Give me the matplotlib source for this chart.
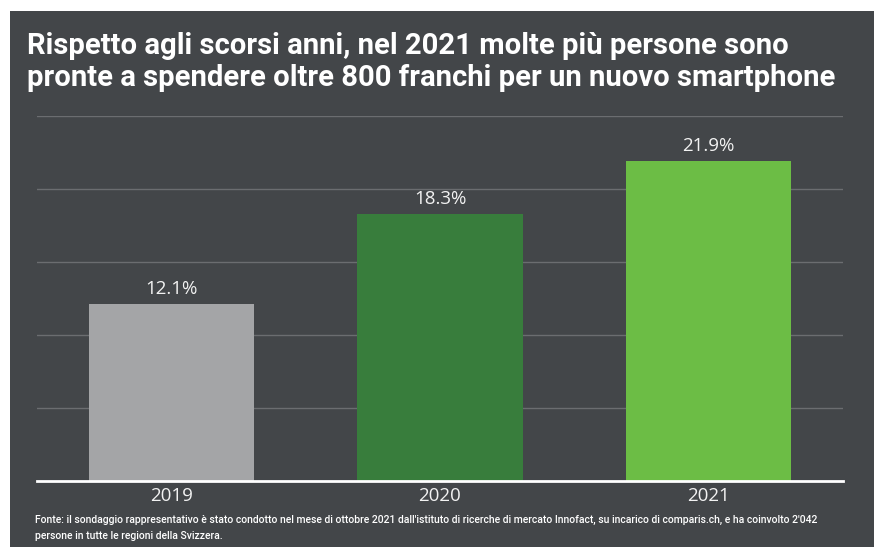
import matplotlib.pyplot as plt
from matplotlib.patches import Rectangle

years = ['2019', '2020', '2021']
shares = [12.1, 18.3, 21.9]
bar_colors = ['#a4a5a7', '#387d3c', '#6cbd45']
value_labels = ['12.1%', '18.3%', '21.9%']

title = ('Rispetto agli scorsi anni, nel 2021 molte più persone sono\n'
         'pronte a spendere oltre 800 franchi per un nuovo smartphone')
source = ("Fonte: il sondaggio rappresentativo è stato condotto nel mese di ottobre 2021 "
          "dall'istituto di ricerche di mercato Innofact, su incarico di comparis.ch, e ha coinvolto 2'042\n"
          "persone in tutte le regioni della Svizzera.")

bg = '#434649'
W, H = 874, 547

fig = plt.figure(figsize=(8.74, 5.47), dpi=100, facecolor='white')
fig.patches.append(Rectangle((10 / W, 0), 1 - 10 / W, 1 - 11 / H,
                             transform=fig.transFigure, facecolor=bg,
                             edgecolor='none', zorder=-1))

ax = fig.add_axes([37 / W, 1 - 481 / H, (843 - 37) / W, (481 - 116) / H])
ax.set_facecolor('none')

x = range(len(years))
bars = ax.bar(x, shares, width=0.615, color=bar_colors, zorder=2)
for b, lab in zip(bars, value_labels):
    ax.text(b.get_x() + b.get_width() / 2, b.get_height() + 0.4, lab,
            ha='center', va='bottom', color='#f2f2f2', fontsize=13.5,
            family='Open Sans')

ax.set_xlim(-0.5, 2.5)
ax.set_ylim(0, 25)
ax.set_yticks([5, 10, 15, 20, 25])
ax.yaxis.grid(True, color='#6b6d70', linewidth=1, zorder=1)
ax.tick_params(axis='y', left=False, labelleft=False)
ax.set_xticks(list(x))
ax.set_xticklabels(years, color='#f2f2f2', fontsize=13.5, family='Open Sans')
ax.tick_params(axis='x', length=0, pad=4.5)
for s in ['top', 'left', 'right']:
    ax.spines[s].set_visible(False)
ax.spines['bottom'].set_color('white')
ax.spines['bottom'].set_linewidth(2)
ax.spines['bottom'].set_zorder(3)

fig.text(27 / W, 1 - 32 / H, title, ha='left', va='top', color='white',
         fontsize=21.1, fontweight='bold', family='Roboto', linespacing=1.2)
fig.text(35 / W, 1 - 515 / H, source, ha='left', va='top', color='white',
         fontsize=7.5, fontweight='medium', family='Roboto', linespacing=1.75)

plt.savefig('out.png', dpi=100, facecolor='white')
